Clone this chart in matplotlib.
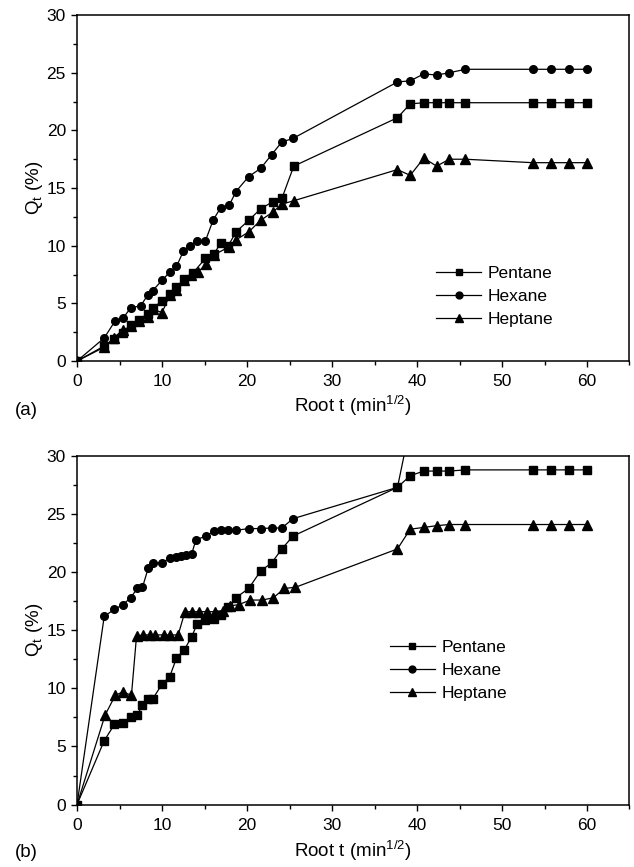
import matplotlib
matplotlib.use("Agg")
import matplotlib.pyplot as plt
from matplotlib.ticker import MultipleLocator

plt.rcParams["font.family"] = ["Liberation Sans", "DejaVu Sans"]
plt.rcParams["mathtext.default"] = "regular"

# panel (a)
a_pentane_x = [0, 3.2, 4.4, 5.4, 6.4, 7.3, 8.3, 8.9, 10.0, 10.9, 11.7, 12.6, 13.6, 15.1, 16.1,
               16.9, 17.8, 18.7, 20.2, 21.6, 23.0, 24.1, 25.5,
               37.7, 39.2, 40.8, 42.3, 43.8, 45.7, 53.6, 55.8, 57.9, 60.0]
a_pentane_y = [0, 1.3, 1.9, 2.4, 3.1, 3.6, 4.1, 4.6, 5.2, 5.8, 6.4, 7.1, 7.6, 8.9, 9.3,
               10.2, 10.0, 11.2, 12.2, 13.2, 13.8, 14.1, 16.9,
               21.1, 22.3, 22.4, 22.4, 22.4, 22.4, 22.4, 22.4, 22.4, 22.4]
a_hexane_x = [0, 3.2, 4.5, 5.4, 6.3, 7.5, 8.3, 8.9, 10.0, 10.9, 11.7, 12.5, 13.3, 14.1, 15.1,
              16.0, 16.9, 17.9, 18.7, 20.2, 21.6, 22.9, 24.1, 25.4,
              37.7, 39.2, 40.8, 42.3, 43.8, 45.7, 53.6, 55.8, 57.9, 60.0]
a_hexane_y = [0, 2.0, 3.5, 3.7, 4.6, 4.8, 5.7, 6.1, 7.0, 7.7, 8.2, 9.5, 10.0, 10.4, 10.4,
              12.2, 13.3, 13.5, 14.7, 16.0, 16.7, 17.9, 19.0, 19.3,
              24.2, 24.3, 24.9, 24.8, 25.0, 25.3, 25.3, 25.3, 25.3, 25.3]
a_heptane_x = [0, 3.2, 4.3, 5.4, 6.3, 7.3, 8.3, 8.9, 10.0, 10.9, 11.7, 12.6, 13.4, 14.2, 15.2,
               16.1, 17.9, 18.7, 20.2, 21.6, 23.0, 24.1, 25.5,
               37.7, 39.2, 40.8, 42.3, 43.8, 45.7, 53.6, 55.8, 57.9, 60.0]
a_heptane_y = [0, 1.2, 2.0, 2.7, 3.0, 3.5, 3.8, 4.5, 4.2, 5.7, 6.2, 7.0, 7.5, 7.7, 8.4,
               9.2, 9.9, 10.5, 11.2, 12.2, 12.9, 13.6, 13.9,
               16.6, 16.1, 17.6, 16.9, 17.5, 17.5, 17.2, 17.2, 17.2, 17.2]

# panel (b)
b_pentane_x = [0, 3.2, 4.4, 5.4, 6.3, 7.1, 7.7, 8.4, 8.9, 10.0, 10.9, 11.7, 12.6, 13.5, 14.1,
               15.1, 16.1, 16.9, 17.8, 18.7, 20.2, 21.6, 22.9, 24.1, 25.4,
               37.7, 39.2, 40.8, 42.3, 43.8, 45.7, 53.6, 55.8, 57.9, 60.0]
b_pentane_y = [0, 5.5, 6.9, 7.0, 7.5, 7.7, 8.6, 9.1, 9.1, 10.35, 11.0, 12.6, 13.3, 14.45, 15.5,
               15.9, 15.95, 16.3, 17.0, 17.8, 18.6, 20.1, 20.8, 22.0, 23.1,
               27.3, 28.3, 28.7, 28.7, 28.7, 28.8, 28.8, 28.8, 28.8, 28.8]
b_hexane_x = [0, 3.2, 4.4, 5.4, 6.3, 7.1, 7.7, 8.4, 8.9, 10.0, 10.9, 11.6, 12.2, 12.8, 13.5,
              14.0, 15.2, 16.1, 16.9, 17.8, 18.7, 20.2, 21.6, 22.9, 24.1, 25.4,
              37.7, 39.2]
b_hexane_y = [0, 16.2, 16.8, 17.2, 17.8, 18.6, 18.7, 20.4, 20.75, 20.8, 21.2, 21.3, 21.4, 21.5, 21.6,
              22.8, 23.1, 23.55, 23.6, 23.6, 23.6, 23.75, 23.75, 23.8, 23.8, 24.6,
              27.3, 32.6]
b_heptane_x = [0, 3.3, 4.5, 5.4, 6.4, 7.0, 7.8, 8.6, 9.2, 10.2, 10.9, 11.9, 12.7, 13.5, 14.3,
               15.3, 16.2, 17.2, 18.0, 19.0, 20.4, 21.8, 23.1, 24.4, 25.7,
               37.7, 39.2, 40.8, 42.3, 43.8, 45.7, 53.6, 55.8, 57.9, 60.0]
b_heptane_y = [0, 7.7, 9.4, 9.7, 9.4, 14.5, 14.6, 14.6, 14.6, 14.6, 14.6, 14.6, 16.6, 16.6, 16.6,
               16.6, 16.6, 16.7, 17.1, 17.2, 17.6, 17.6, 17.8, 18.6, 18.7,
               22.0, 23.7, 23.85, 24.0, 24.1, 24.1, 24.1, 24.1, 24.1, 24.1]

series_names = ["Pentane", "Hexane", "Heptane"]
markers = ["s", "o", "^"]

fig = plt.figure(figsize=(6.34, 8.67), dpi=100)
ax_a = fig.add_axes([0.1215, 0.5836, 0.8714, 0.3990])
ax_b = fig.add_axes([0.1215, 0.0720, 0.8714, 0.4021])

# axes, data, legend anchor, x tick pad, x label pad
panels = [
    (ax_a, [(a_pentane_x, a_pentane_y), (a_hexane_x, a_hexane_y), (a_heptane_x, a_heptane_y)],
     (0.634, 0.30), 5.0, 3.5),
    (ax_b, [(b_pentane_x, b_pentane_y), (b_hexane_x, b_hexane_y), (b_heptane_x, b_heptane_y)],
     (0.55, 0.498), 5.5, 4.0),
]

for ax, data, legend_pos, xpad, xlabpad in panels:
    for (xs, ys), name, mk in zip(data, series_names, markers):
        ms = 6.5 if mk == "^" else 5.5
        ax.plot(xs, ys, color="black", lw=0.9, marker=mk, ms=ms, label=name)
    ax.set_xlim(0, 65)
    ax.set_ylim(0, 30)
    ax.xaxis.set_major_locator(MultipleLocator(10))
    ax.xaxis.set_minor_locator(MultipleLocator(5))
    ax.yaxis.set_major_locator(MultipleLocator(5))
    ax.yaxis.set_minor_locator(MultipleLocator(2.5))
    ax.tick_params(which="major", direction="out", length=4.5, width=1.0, labelsize=12.5,
                   top=False, right=False)
    ax.tick_params(which="minor", direction="out", length=3, width=1.0, top=False, right=False)
    ax.tick_params(axis="x", which="major", pad=xpad)
    ax.tick_params(axis="y", which="major", pad=3.5)
    for sp in ax.spines.values():
        sp.set_linewidth(1.1)
    ax.set_xlabel("Root t (min$^{1/2}$)", fontsize=13.5, labelpad=xlabpad)
    ax.set_ylabel("Q$_t$ (%)", fontsize=13.5, labelpad=1)
    ax.legend(loc="upper left", bbox_to_anchor=legend_pos, frameon=False, fontsize=12.5,
              handlelength=2.6, handletextpad=0.4, labelspacing=0.45, borderpad=0,
              markerscale=0.9)

fig.text(0.024, 0.526, "(a)", fontsize=13.5, va="center", ha="left")
fig.text(0.024, 0.017, "(b)", fontsize=13.5, va="center", ha="left")

fig.savefig("out.png", dpi=100)
